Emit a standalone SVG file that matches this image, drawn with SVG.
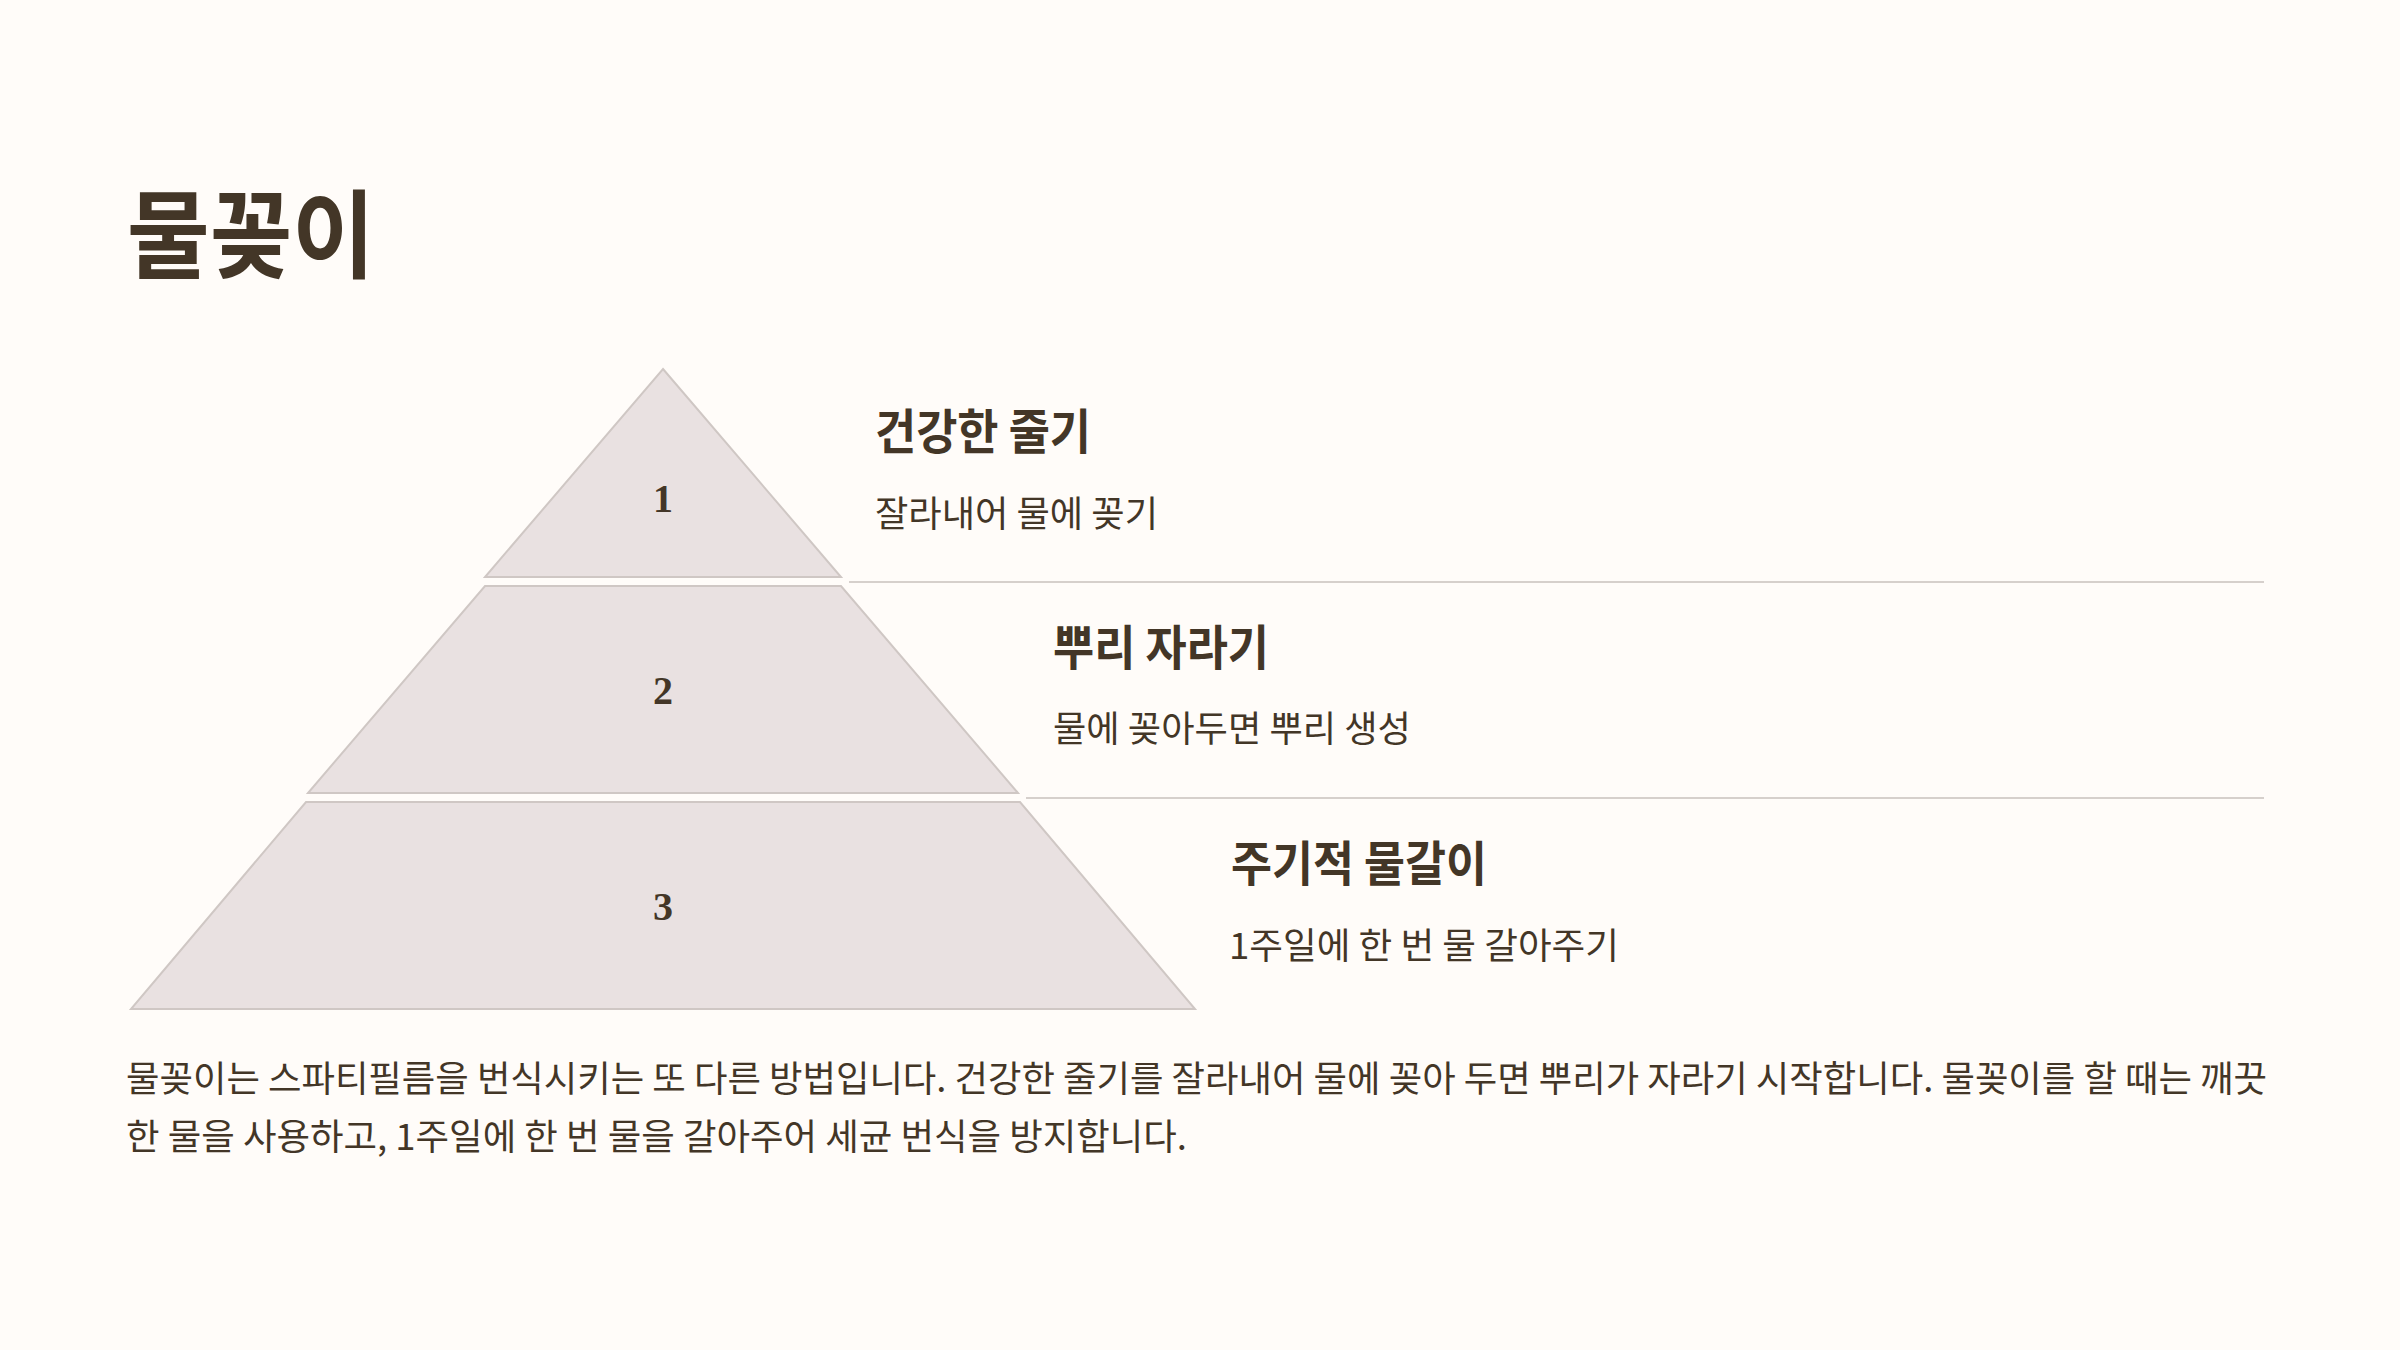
<svg xmlns="http://www.w3.org/2000/svg" width="2400" height="1350" viewBox="0 0 2400 1350">
<style>
.bg{fill:#FFFCF9}
.t{font-family:"Noto Sans CJK KR","Noto Sans",sans-serif;fill:#433627}
.title{font-weight:700;font-size:96px}
.h{font-weight:700;font-size:48px}
.s{font-weight:400;font-size:36px}
.num{font-family:"Liberation Serif",serif;font-weight:700;font-size:40px;fill:#433627;text-anchor:middle}
.layer{fill:#E9E1E1;stroke:#CFC7C4;stroke-width:2}
.div{stroke:#D6D0CC;stroke-width:2;fill:none}
</style>
<rect class="bg" x="0" y="0" width="2400" height="1350"/>
<g id="title">
<text class="t title" x="127" y="270" textLength="248" lengthAdjust="spacingAndGlyphs">물꽂이</text>
</g>
<g id="connectors">
<line class="div" x1="849" y1="582" x2="2264" y2="582"/>
<line class="div" x1="1026" y1="798" x2="2264" y2="798"/>
</g>
<g id="layer1">
<polygon class="layer" points="663,369 841,577 485,577"/>
<text class="num" x="663" y="512">1</text>
<text class="t h" x="875" y="449" textLength="216" lengthAdjust="spacingAndGlyphs">건강한 줄기</text>
<text class="t s" x="875" y="527" textLength="283" lengthAdjust="spacingAndGlyphs">잘라내어 물에 꽂기</text>
</g>
<g id="layer2">
<polygon class="layer" points="485,586 841,586 1018,793 308,793"/>
<text class="num" x="663" y="704">2</text>
<text class="t h" x="1053" y="665" textLength="216" lengthAdjust="spacingAndGlyphs">뿌리 자라기</text>
<text class="t s" x="1053" y="742" textLength="358" lengthAdjust="spacingAndGlyphs">물에 꽂아두면 뿌리 생성</text>
</g>
<g id="layer3">
<polygon class="layer" points="306,802 1020,802 1195,1009 131,1009"/>
<text class="num" x="663" y="920">3</text>
<text class="t h" x="1231" y="881" textLength="256" lengthAdjust="spacingAndGlyphs">주기적 물갈이</text>
<text class="t s" x="1229" y="959" textLength="390" lengthAdjust="spacingAndGlyphs">1주일에 한 번 물 갈아주기</text>
</g>
<g id="body">
<text class="t s" x="126" y="1092" textLength="2141" lengthAdjust="spacingAndGlyphs">물꽂이는 스파티필름을 번식시키는 또 다른 방법입니다. 건강한 줄기를 잘라내어 물에 꽂아 두면 뿌리가 자라기 시작합니다. 물꽂이를 할 때는 깨끗</text>
<text class="t s" x="126" y="1150" textLength="1061" lengthAdjust="spacingAndGlyphs">한 물을 사용하고, 1주일에 한 번 물을 갈아주어 세균 번식을 방지합니다.</text>
</g>
</svg>
